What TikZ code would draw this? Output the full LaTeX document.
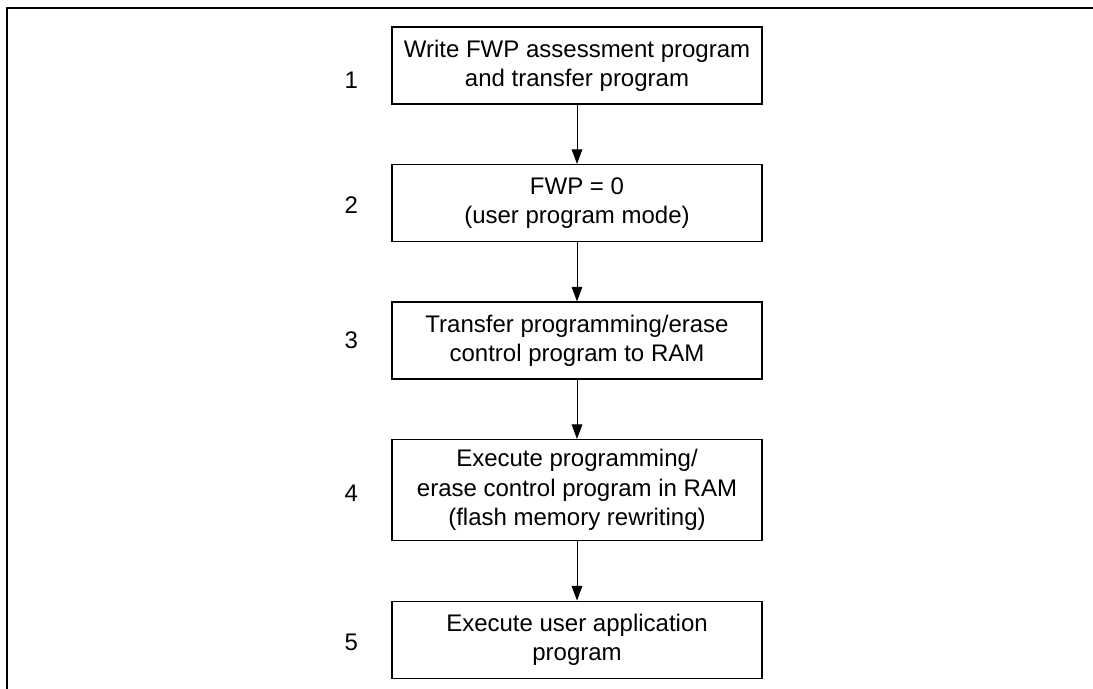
\documentclass[tikz,border=0pt]{standalone}
\usepackage{fontspec}
\setmainfont{Liberation Sans}
\usetikzlibrary{arrows.meta,positioning}

\begin{document}
\begin{tikzpicture}[
  x=0.75pt, y=-0.75pt,
  node distance=44.5pt,
  etapa/.style={rectangle, draw, line width=0.9pt, minimum width=277.5pt,
                minimum height=57.75pt, align=center, inner sep=0pt,
                font=\fontsize{18}{22}\selectfont},
  numero/.style={font=\fontsize{18}{22}\selectfont},
  seta/.style={-{Triangle[length=11pt, width=8pt]}, line width=0.75pt}
]
  \useasboundingbox (0,0) rectangle (1093,689);
  \draw[line width=1.5pt] (6.5,689) -- (6.5,8) -- (1093,8);

  \node[etapa] (b1) at (577,65.5) {Write FWP assessment program\\and transfer program};
  \node[etapa, below=of b1] (b2) {FWP = 0\\(user program mode)};
  \node[etapa, below=of b2] (b3) {Transfer programming/erase\\control program to RAM};
  \node[etapa, below=of b3, minimum height=75.75pt] (b4) {Execute programming/\\erase control program in RAM\\(flash memory rewriting)};
  \node[etapa, below=of b4] (b5) {Execute user application\\program};

  \node[numero] (n1) at ([xshift=-30pt, yshift=-11pt]b1.west) {1};
  \node[numero] (n2) at ([xshift=-30pt, yshift=-1.5pt]b2.west) {2};
  \node[numero] (n3) at ([xshift=-30pt]b3.west) {3};
  \node[numero] (n4) at ([xshift=-30pt, yshift=-2.5pt]b4.west) {4};
  \node[numero] (n5) at ([xshift=-30pt, yshift=-2.3pt]b5.west) {5};

  \draw[seta] (b1) -- (b2);
  \draw[seta] (b2) -- (b3);
  \draw[seta] (b3) -- (b4);
  \draw[seta] (b4) -- (b5);
\end{tikzpicture}
\end{document}
